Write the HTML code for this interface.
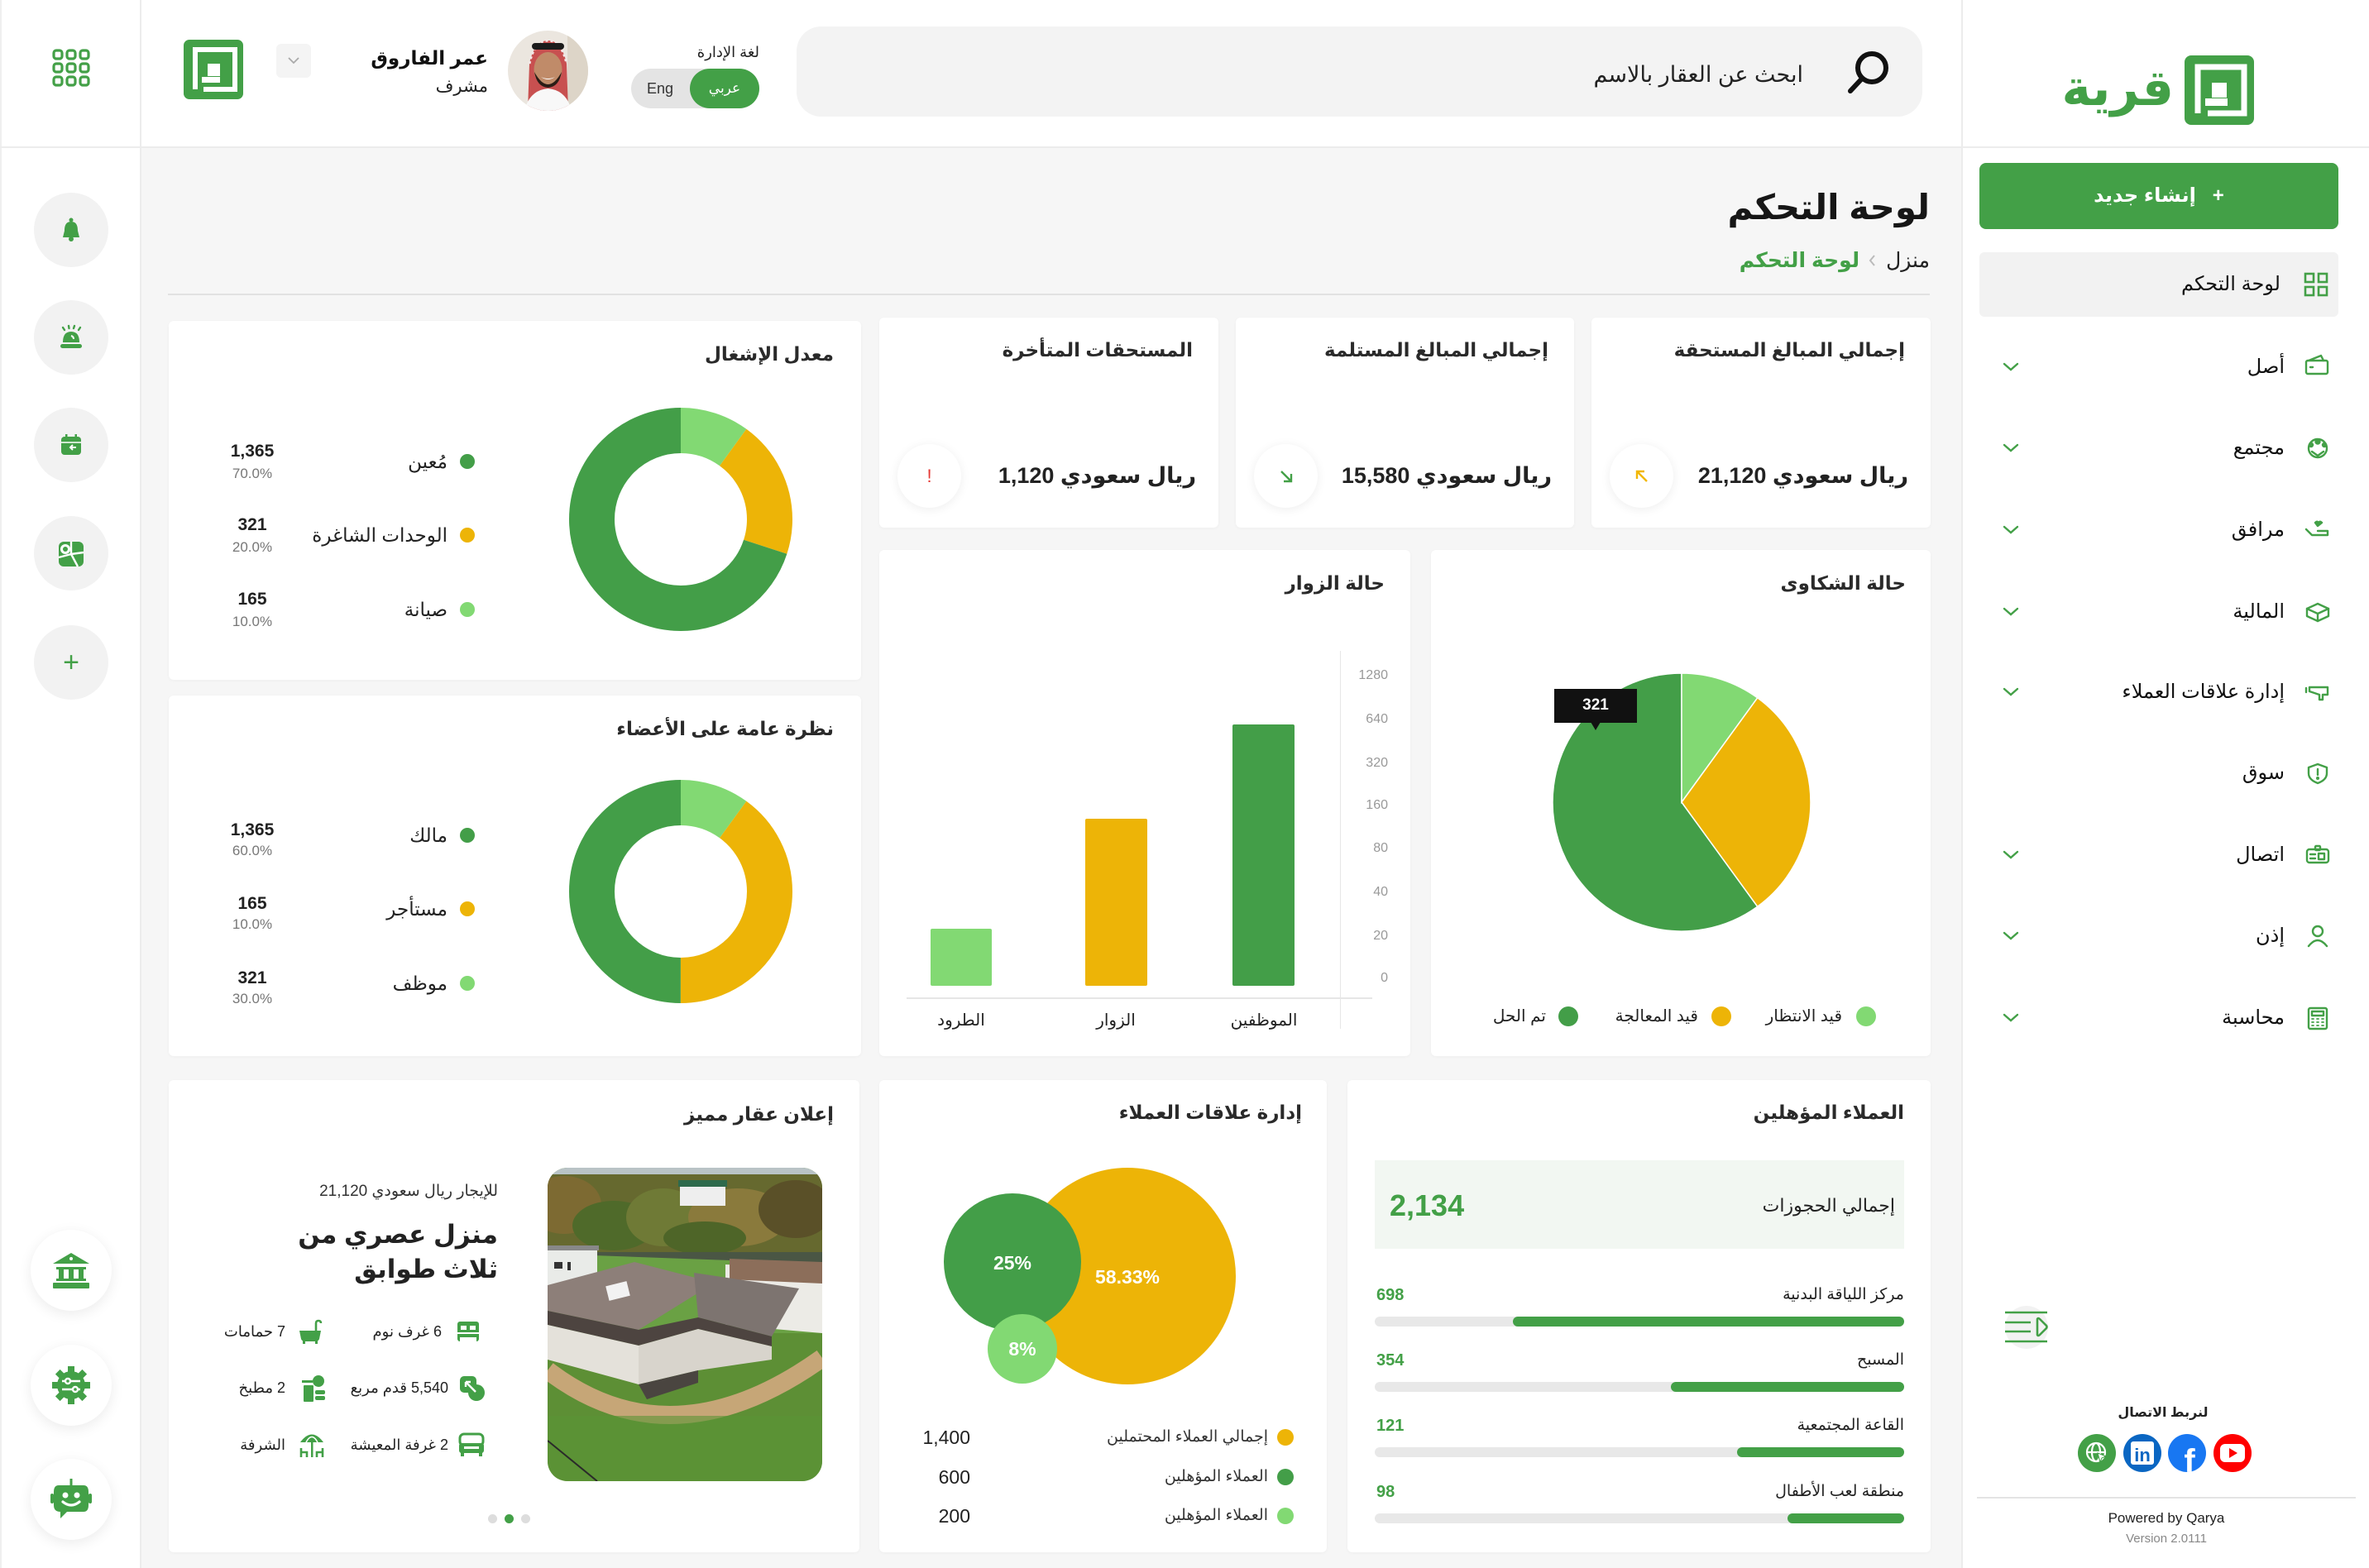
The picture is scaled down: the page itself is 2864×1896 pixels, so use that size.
<!DOCTYPE html>
<html lang="ar">
<head>
<meta charset="utf-8">
<style>
*{margin:0;padding:0;box-sizing:border-box}
html,body{width:2864px;height:1896px;overflow:hidden}
body{position:relative;background:#f6f6f6;font-family:"Liberation Sans","DejaVu Sans",sans-serif;color:#222}
.a{position:absolute}
.t{position:absolute;white-space:nowrap;direction:rtl;line-height:1}
.card{position:absolute;background:#fff;border-radius:6px;box-shadow:0 1px 4px rgba(0,0,0,0.035)}
.ttl{position:absolute;white-space:nowrap;direction:rtl;font-size:23px;font-weight:bold;line-height:34px;top:23px;color:#2a2a2a}
.circ{position:absolute;border-radius:50%}
.c{text-align:center;direction:ltr}
</style>
</head>
<body>

<!-- ===== frame ===== -->
<div class="a" style="left:0;top:0;width:171px;height:1896px;background:#fff;border-right:2px solid #ececec;border-left:2px solid #efefef"></div>
<div class="a" style="left:171px;top:0;width:2200px;height:178px;background:#fff"></div>
<div class="a" style="left:2371px;top:0;width:493px;height:1896px;background:#fff;border-left:2px solid #ececec"></div>
<div class="a" style="left:0;top:177px;width:2864px;height:2px;background:#ececec"></div>

<!-- ===== left sidebar ===== -->
<svg class="a" style="left:63px;top:59px" width="46" height="46" viewBox="0 0 46 46">
<g fill="none" stroke="#43a047" stroke-width="3.2">
<rect x="2" y="2" width="10" height="10" rx="3"/><rect x="18" y="2" width="10" height="10" rx="3"/><rect x="34" y="2" width="10" height="10" rx="3"/>
<rect x="2" y="18" width="10" height="10" rx="3"/><rect x="18" y="18" width="10" height="10" rx="3"/><rect x="34" y="18" width="10" height="10" rx="3"/>
<rect x="2" y="34" width="10" height="10" rx="3"/><rect x="18" y="34" width="10" height="10" rx="3"/><rect x="34" y="34" width="10" height="10" rx="3"/>
</g></svg>

<div class="circ" style="left:41px;top:233px;width:90px;height:90px;background:#f2f2f2"></div>
<svg class="a" style="left:72px;top:263px" width="28" height="30" viewBox="0 0 28 30"><circle cx="14" cy="3" r="2.5" fill="#43a047"/><path d="M14 5 C7 5 6 11 6 16 L4 24 L24 24 L22 16 C22 11 21 5 14 5Z" fill="#43a047"/><circle cx="14" cy="26" r="3" fill="#43a047"/></svg>

<div class="circ" style="left:41px;top:363px;width:90px;height:90px;background:#f2f2f2"></div>
<svg class="a" style="left:70px;top:392px" width="32" height="32" viewBox="0 0 32 32"><g stroke="#43a047" stroke-width="2.4" stroke-linecap="round"><line x1="6" y1="4" x2="8" y2="7"/><line x1="13" y1="2" x2="13.5" y2="5"/><line x1="20" y1="2" x2="19" y2="5"/><line x1="27" y1="4" x2="25" y2="7"/></g><path d="M6 22 Q6 9 16 9 Q26 9 26 22Z" fill="#43a047"/><path d="M16 14 Q19 15 19 18" stroke="#fff" stroke-width="2" fill="none"/><rect x="3" y="24" width="26" height="5" rx="2.5" fill="#43a047"/></svg>

<div class="circ" style="left:41px;top:493px;width:90px;height:90px;background:#f2f2f2"></div>
<svg class="a" style="left:73px;top:525px" width="26" height="26" viewBox="0 0 26 26"><rect x="1" y="3" width="24" height="22" rx="4" fill="#43a047"/><rect x="6" y="0" width="2.5" height="6" fill="#43a047"/><rect x="17.5" y="0" width="2.5" height="6" fill="#43a047"/><line x1="1" y1="10" x2="25" y2="10" stroke="#fff" stroke-width="1.6"/><path d="M19 16 L12 16 M15 13 L12 16 L15 19" stroke="#fff" stroke-width="2" fill="none"/></svg>

<div class="circ" style="left:41px;top:624px;width:90px;height:90px;background:#f2f2f2"></div>
<svg class="a" style="left:70px;top:654px" width="32" height="32" viewBox="0 0 32 32"><rect x="1" y="1" width="30" height="30" rx="6" fill="#43a047"/><circle cx="9" cy="10" r="6" fill="#fff"/><circle cx="9" cy="10" r="3" fill="#43a047"/><path d="M16 1 L16 16 L1 20 M16 16 L24 31 M16 16 L31 14" stroke="#fff" stroke-width="2.4" fill="none"/></svg>

<div class="circ" style="left:41px;top:756px;width:90px;height:90px;background:#f2f2f2"></div>
<div class="t c" style="left:41px;top:780px;width:90px;font-size:34px;line-height:42px;color:#43a047">+</div>

<div class="circ" style="left:37px;top:1487px;width:98px;height:98px;background:#fff;box-shadow:0 4px 16px rgba(0,0,0,0.08)"></div>
<svg class="a" style="left:63px;top:1513px" width="46" height="46" viewBox="0 0 46 46"><path d="M23 2 L45 15 L1 15Z" fill="#43a047"/><circle cx="23" cy="9" r="2" fill="#fff"/><rect x="5" y="19" width="36" height="3" fill="#43a047"/><rect x="8" y="22" width="6" height="12" fill="#43a047"/><rect x="20" y="22" width="6" height="12" fill="#43a047"/><rect x="32" y="22" width="6" height="12" fill="#43a047"/><rect x="5" y="33" width="36" height="3" fill="#43a047"/><rect x="1" y="38" width="44" height="7" rx="1" fill="#43a047"/></svg>

<div class="circ" style="left:37px;top:1626px;width:98px;height:98px;background:#fff;box-shadow:0 4px 16px rgba(0,0,0,0.08)"></div>
<svg class="a" style="left:62px;top:1651px" width="48" height="48" viewBox="0 0 48 48"><g fill="#43a047"><rect x="20" y="1" width="8" height="46"/><rect x="1" y="20" width="46" height="8"/><rect x="20" y="1" width="8" height="46" transform="rotate(45 24 24)"/><rect x="20" y="1" width="8" height="46" transform="rotate(-45 24 24)"/><circle cx="24" cy="24" r="17"/></g><g stroke="#fff" stroke-width="2.4" fill="#43a047"><line x1="13" y1="19" x2="35" y2="19"/><line x1="13" y1="29" x2="35" y2="29"/><circle cx="20" cy="19" r="3"/><circle cx="29" cy="29" r="3"/></g></svg>

<div class="circ" style="left:37px;top:1764px;width:98px;height:98px;background:#fff;box-shadow:0 4px 16px rgba(0,0,0,0.08)"></div>
<svg class="a" style="left:61px;top:1788px" width="50" height="50" viewBox="0 0 50 50"><rect x="23.5" y="0" width="3" height="8" fill="#43a047"/><path d="M10 8 L40 8 Q46 8 46 16 L46 32 Q46 40 40 40 L20 40 L12 48 L12 40 Q4 40 4 32 L4 16 Q4 8 10 8Z" fill="#43a047"/><rect x="0" y="18" width="4" height="12" rx="2" fill="#43a047"/><rect x="46" y="18" width="4" height="12" rx="2" fill="#43a047"/><circle cx="18" cy="20" r="3.5" fill="#fff"/><circle cx="32" cy="20" r="3.5" fill="#fff"/><path d="M15 28 Q25 36 35 28" stroke="#fff" stroke-width="3.2" fill="none" stroke-linecap="round"/></svg>

<!-- ===== header ===== -->
<svg class="a" style="left:222px;top:48px" width="72" height="72" viewBox="0 0 72 72"><rect width="72" height="72" rx="7" fill="#43a047"/><path d="M14 60 L14 12 L62 12 L62 60 L24 60" stroke="#fff" stroke-width="6" fill="none"/><rect x="23" y="22" width="30" height="30" fill="#43a047"/><rect x="29" y="29" width="15" height="15" fill="#fff"/><rect x="22" y="45" width="22" height="7" fill="#fff"/></svg>

<div class="a" style="left:334px;top:53px;width:42px;height:41px;background:#f4f4f4;border-radius:6px"></div>
<svg class="a" style="left:347px;top:67px" width="16" height="12" viewBox="0 0 16 12"><path d="M2 3 L8 9 L14 3" stroke="#aaa" stroke-width="1.8" fill="none"/></svg>

<div class="t" style="right:2274px;top:55px;font-size:23px;font-weight:bold;line-height:30px;color:#111">عمر الفاروق</div>
<div class="t" style="right:2274px;top:92px;font-size:21px;line-height:26px;color:#222">مشرف</div>

<svg class="a" style="left:614px;top:37px" width="97" height="97" viewBox="0 0 97 97"><defs><clipPath id="av"><circle cx="48.5" cy="48.5" r="48.5"/></clipPath></defs><g clip-path="url(#av)"><rect width="97" height="97" fill="#ebe6df"/><rect x="72" y="0" width="25" height="97" fill="#ddd5c8"/><path d="M24 97 L26 40 Q32 12 48.5 12 Q65 12 71 40 L73 97Z" fill="#c85050"/><path d="M26 40 Q32 12 48.5 12 Q65 12 71 40" stroke="#f3e8e8" stroke-width="3" fill="none" stroke-dasharray="3 3"/><rect x="29" y="15" width="39" height="8" rx="4" fill="#1b1b1b"/><ellipse cx="48.5" cy="47" rx="17" ry="21" fill="#c08b69"/><path d="M32 50 Q48.5 80 65 50 Q62 68 48.5 69 Q35 68 32 50Z" fill="#2b1d16"/><path d="M40 56 Q48.5 62 57 56 Q48.5 60 40 56Z" fill="#fff"/><path d="M20 97 Q26 72 48.5 70 Q71 72 77 97Z" fill="#f8f8f8"/></g></svg>

<div class="t" style="right:1946px;top:52px;font-size:18px;line-height:22px;color:#222">لغة الإدارة</div>
<div class="a" style="left:763px;top:83px;width:155px;height:48px;border-radius:24px;background:#e4e4e4"></div>
<div class="a" style="left:834px;top:83px;width:84px;height:48px;border-radius:24px;background:#43a047"></div>
<div class="t c" style="left:772px;top:96px;width:52px;font-size:18px;line-height:22px;color:#333">Eng</div>
<div class="t c" style="left:836px;top:96px;width:80px;font-size:17px;line-height:22px;color:#fff">عربي</div>

<div class="a" style="left:963px;top:32px;width:1361px;height:109px;border-radius:30px;background:#f3f3f3"></div>
<svg class="a" style="left:2232px;top:59px" width="54" height="56" viewBox="0 0 54 56"><circle cx="31" cy="23" r="17" stroke="#111" stroke-width="6" fill="none"/><line x1="19" y1="36" x2="5" y2="51" stroke="#111" stroke-width="6" stroke-linecap="round"/></svg>
<div class="t" style="right:684px;top:73px;font-size:27px;line-height:34px;color:#222">ابحث عن العقار بالاسم</div>

<!-- ===== right sidebar ===== -->
<svg class="a" style="left:2641px;top:67px" width="84" height="84" viewBox="0 0 84 84"><rect width="84" height="84" rx="8" fill="#43a047"/><path d="M16 70 L16 14 L72 14 L72 70 L28 70" stroke="#fff" stroke-width="7" fill="none"/><rect x="26" y="25" width="36" height="36" fill="#43a047"/><rect x="33" y="33" width="18" height="18" fill="#fff"/><rect x="25" y="52" width="27" height="9" fill="#fff"/></svg>
<div class="t" style="right:236px;top:70px;font-size:60px;font-weight:bold;line-height:74px;color:#43a047">قرية</div>

<div class="a" style="left:2393px;top:197px;width:434px;height:80px;border-radius:8px;background:#43a047"></div>
<div class="t c" style="left:2393px;top:221px;width:434px;font-size:24px;font-weight:bold;line-height:32px;color:#fff;direction:rtl">+&nbsp;&nbsp; إنشاء جديد</div>

<div class="a" style="left:2393px;top:305px;width:434px;height:78px;border-radius:6px;background:#f2f2f2"></div>
<svg class="a" style="left:2785px;top:329px" width="30" height="30" viewBox="0 0 30 30"><g fill="none" stroke="#43a047" stroke-width="2.6"><rect x="2" y="2" width="10" height="10"/><rect x="18" y="2" width="10" height="10"/><rect x="2" y="18" width="10" height="10"/><rect x="18" y="18" width="10" height="10"/></g></svg>
<div class="t" style="right:107px;top:328px;font-size:24px;line-height:32px;color:#111">لوحة التحكم</div>

<!-- menu items -->
<div class="t" style="right:102px;top:428px;font-size:24px;line-height:32px;color:#111">أصل</div>
<div class="t" style="right:102px;top:526px;font-size:24px;line-height:32px;color:#111">مجتمع</div>
<div class="t" style="right:102px;top:625px;font-size:24px;line-height:32px;color:#111">مرافق</div>
<div class="t" style="right:102px;top:724px;font-size:24px;line-height:32px;color:#111">المالية</div>
<div class="t" style="right:102px;top:821px;font-size:24px;line-height:32px;color:#111">إدارة علاقات العملاء</div>
<div class="t" style="right:102px;top:919px;font-size:24px;line-height:32px;color:#111">سوق</div>
<div class="t" style="right:102px;top:1018px;font-size:24px;line-height:32px;color:#111">اتصال</div>
<div class="t" style="right:102px;top:1116px;font-size:24px;line-height:32px;color:#111">إذن</div>
<div class="t" style="right:102px;top:1215px;font-size:24px;line-height:32px;color:#111">محاسبة</div>

<svg class="a" style="left:2420px;top:0" width="22" height="1300" viewBox="0 0 22 1300"><g stroke="#43a047" stroke-width="2.4" fill="none" stroke-linecap="round"><path d="M3 440 L11 447 L19 440"/><path d="M3 538 L11 545 L19 538"/><path d="M3 637 L11 644 L19 637"/><path d="M3 736 L11 743 L19 736"/><path d="M3 833 L11 840 L19 833"/><path d="M3 1030 L11 1037 L19 1030"/><path d="M3 1128 L11 1135 L19 1128"/><path d="M3 1227 L11 1234 L19 1227"/></g></svg>

<svg class="a" style="left:2786px;top:0" width="32" height="1260" viewBox="0 0 32 1260"><g stroke="#43a047" stroke-width="2.4" fill="none" stroke-linecap="round" stroke-linejoin="round">
<rect x="2" y="436" width="26" height="16" rx="2"/><path d="M5 436 L20 430 L23 436"/><line x1="7" y1="444" x2="10" y2="444"/>
<circle cx="16" cy="542" r="11"/><circle cx="16" cy="534" r="2.5" fill="#43a047"/><circle cx="8" cy="538" r="2" fill="#43a047"/><circle cx="24" cy="538" r="2" fill="#43a047"/><path d="M9 546 L16 551 L23 546"/>
<path d="M2 640 L9 647 L28 647 L28 642 L16 642"/><path d="M16 636 L13 632 Q16 629 17 633 Q18 629 21 632Z" fill="#43a047"/>
<path d="M3 736 L16 730 L29 736 L29 745 L16 751 L3 745Z"/><path d="M3 736 L16 742 L29 736 M16 742 L16 751"/>
<path d="M6 831 L28 831 L28 840 L22 840 L22 846 L18 846 L18 840 L6 836Z"/><line x1="2" y1="832" x2="2" y2="837"/>
<path d="M16 924 L27 928 L27 935 Q27 943 16 947 Q5 943 5 935 L5 928Z"/><line x1="16" y1="930" x2="16" y2="937"/><circle cx="16" cy="941" r="0.8" fill="#43a047"/>
<rect x="3" y="1027" width="26" height="16" rx="3"/><rect x="13" y="1023" width="6" height="5" rx="1"/><line x1="7" y1="1033" x2="13" y2="1033"/><line x1="7" y1="1038" x2="13" y2="1038"/><rect x="17" y="1032" width="7" height="7"/>
<circle cx="16" cy="1126" r="6"/><path d="M5 1144 Q16 1130 27 1144"/>
<rect x="5" y="1219" width="22" height="25" rx="2"/><rect x="9" y="1223" width="14" height="5"/><g stroke-width="1.8"><line x1="9" y1="1232" x2="11" y2="1232"/><line x1="15" y1="1232" x2="17" y2="1232"/><line x1="21" y1="1232" x2="23" y2="1232"/><line x1="9" y1="1236" x2="11" y2="1236"/><line x1="15" y1="1236" x2="17" y2="1236"/><line x1="21" y1="1236" x2="23" y2="1236"/><line x1="9" y1="1240" x2="11" y2="1240"/><line x1="15" y1="1240" x2="17" y2="1240"/><line x1="21" y1="1240" x2="23" y2="1240"/></g>
</g></svg>

<!-- collapse icon -->
<div class="circ" style="left:2424px;top:1579px;width:52px;height:52px;background:#f2f2f2"></div>
<svg class="a" style="left:2423px;top:1585px" width="54" height="40" viewBox="0 0 54 40"><g stroke="#43a047" stroke-width="2.6" fill="none"><line x1="1" y1="2" x2="52" y2="2"/><line x1="1" y1="14" x2="32" y2="14"/><line x1="1" y1="25" x2="32" y2="25"/><line x1="1" y1="37" x2="52" y2="37"/><path d="M40 10 L40 29 Q41 31 43 29 L51 21 Q52 19.5 51 18 L43 10 Q41 8 40 10Z"/></g></svg>

<div class="t c" style="left:2515px;top:1698px;width:200px;font-size:16px;font-weight:bold;line-height:22px;color:#222;direction:rtl">لنربط الاتصال</div>
<svg class="a" style="left:2510px;top:1732px" width="214" height="50" viewBox="0 0 214 50">
<circle cx="25" cy="25" r="23" fill="#43a047"/><g stroke="#fff" stroke-width="2.2" fill="none"><circle cx="24" cy="24" r="11"/><ellipse cx="24" cy="24" rx="5" ry="11"/><line x1="13" y1="24" x2="35" y2="24"/></g><path d="M26 25 L36 29 L31 31 L29 36Z" fill="#fff" stroke="#43a047" stroke-width="1"/>
<circle cx="80" cy="25" r="23" fill="#0a66c2"/><rect x="66" y="11" width="28" height="28" rx="3" fill="#fff"/><text x="80" y="35" font-family="Liberation Sans" font-weight="bold" font-size="22" fill="#0a66c2" text-anchor="middle">in</text>
<circle cx="134" cy="25" r="23" fill="#1877f2"/><text x="137" y="48" font-family="Liberation Sans" font-weight="bold" font-size="40" fill="#fff" text-anchor="middle">f</text>
<circle cx="189" cy="25" r="23" fill="#ff0000"/><rect x="174" y="14" width="30" height="22" rx="6" fill="#fff"/><path d="M185 19 L195 25 L185 31Z" fill="#ff0000"/>
</svg>
<div class="a" style="left:2390px;top:1810px;width:458px;height:2px;background:#e4e4e4"></div>
<div class="t c" style="left:2519px;top:1826px;width:200px;font-size:17px;line-height:20px;color:#222">Powered by Qarya</div>
<div class="t c" style="left:2519px;top:1852px;width:200px;font-size:15px;line-height:18px;color:#888">Version 2.0111</div>

<!-- ===== page title ===== -->
<div class="t" style="right:531px;top:219px;font-size:42px;font-weight:bold;line-height:64px;color:#161616">لوحة التحكم</div>
<div class="t" style="right:531px;top:299px;font-size:25px;line-height:32px;color:#222">منزل <svg width="18" height="22" viewBox="0 0 18 22" style="vertical-align:-3px"><path d="M11 5 L6 11 L11 17" stroke="#bbb" stroke-width="2" fill="none"/></svg> <span style="color:#43a047;font-weight:bold">لوحة التحكم</span></div>
<div class="a" style="left:203px;top:355px;width:2130px;height:2px;background:#e2e2e2"></div>

<!-- ===== C1 occupancy ===== -->
<div class="card" style="left:204px;top:388px;width:837px;height:434px">
  <div class="ttl" style="right:33px">معدل الإشغال</div>
  <svg class="a" style="left:484px;top:105px" width="270" height="270" viewBox="0 0 270 270"><g transform="rotate(-90 135 135)" fill="none" stroke-width="55">
    <circle cx="135" cy="135" r="107.5" stroke="#82d973" stroke-dasharray="67.54 607.9"/>
    <circle cx="135" cy="135" r="107.5" stroke="#edb407" stroke-dasharray="135.09 540.35" stroke-dashoffset="-67.54"/>
    <circle cx="135" cy="135" r="107.5" stroke="#439e48" stroke-dasharray="472.81 202.63" stroke-dashoffset="-202.63"/>
  </g></svg>
  <div class="circ" style="left:352px;top:161px;width:18px;height:18px;background:#439e48"></div>
  <div class="circ" style="left:352px;top:250px;width:18px;height:18px;background:#edb407"></div>
  <div class="circ" style="left:352px;top:340px;width:18px;height:18px;background:#82d973"></div>
  <div class="t" style="right:500px;top:154px;font-size:23px;line-height:32px">مُعين</div>
  <div class="t" style="right:500px;top:243px;font-size:23px;line-height:32px">الوحدات الشاغرة</div>
  <div class="t" style="right:500px;top:333px;font-size:23px;line-height:32px">صيانة</div>
  <div class="t c" style="left:41px;top:146px;width:120px;font-size:21px;font-weight:bold;line-height:24px">1,365</div>
  <div class="t c" style="left:41px;top:175px;width:120px;font-size:17px;line-height:20px;color:#777">70.0%</div>
  <div class="t c" style="left:41px;top:235px;width:120px;font-size:21px;font-weight:bold;line-height:24px">321</div>
  <div class="t c" style="left:41px;top:264px;width:120px;font-size:17px;line-height:20px;color:#777">20.0%</div>
  <div class="t c" style="left:41px;top:325px;width:120px;font-size:21px;font-weight:bold;line-height:24px">165</div>
  <div class="t c" style="left:41px;top:354px;width:120px;font-size:17px;line-height:20px;color:#777">10.0%</div>
</div>

<!-- ===== C5 members ===== -->
<div class="card" style="left:204px;top:841px;width:837px;height:436px">
  <div class="ttl" style="right:33px">نظرة عامة على الأعضاء</div>
  <svg class="a" style="left:484px;top:102px" width="270" height="270" viewBox="0 0 270 270"><g transform="rotate(-90 135 135)" fill="none" stroke-width="55">
    <circle cx="135" cy="135" r="107.5" stroke="#82d973" stroke-dasharray="67.54 607.9"/>
    <circle cx="135" cy="135" r="107.5" stroke="#edb407" stroke-dasharray="270.18 405.26" stroke-dashoffset="-67.54"/>
    <circle cx="135" cy="135" r="107.5" stroke="#439e48" stroke-dasharray="337.72 337.72" stroke-dashoffset="-337.72"/>
  </g></svg>
  <div class="circ" style="left:352px;top:160px;width:18px;height:18px;background:#439e48"></div>
  <div class="circ" style="left:352px;top:249px;width:18px;height:18px;background:#edb407"></div>
  <div class="circ" style="left:352px;top:339px;width:18px;height:18px;background:#82d973"></div>
  <div class="t" style="right:500px;top:153px;font-size:23px;line-height:32px">مالك</div>
  <div class="t" style="right:500px;top:242px;font-size:23px;line-height:32px">مستأجر</div>
  <div class="t" style="right:500px;top:332px;font-size:23px;line-height:32px">موظف</div>
  <div class="t c" style="left:41px;top:151px;width:120px;font-size:21px;font-weight:bold;line-height:24px">1,365</div>
  <div class="t c" style="left:41px;top:178px;width:120px;font-size:17px;line-height:20px;color:#777">60.0%</div>
  <div class="t c" style="left:41px;top:240px;width:120px;font-size:21px;font-weight:bold;line-height:24px">165</div>
  <div class="t c" style="left:41px;top:267px;width:120px;font-size:17px;line-height:20px;color:#777">10.0%</div>
  <div class="t c" style="left:41px;top:330px;width:120px;font-size:21px;font-weight:bold;line-height:24px">321</div>
  <div class="t c" style="left:41px;top:357px;width:120px;font-size:17px;line-height:20px;color:#777">30.0%</div>
</div>

<!-- ===== C2-C4 stat cards ===== -->
<div class="card" style="left:1063px;top:384px;width:410px;height:254px">
  <div class="ttl" style="right:31px;top:22px">المستحقات المتأخرة</div>
  <div class="t" style="right:27px;top:171px;font-size:27px;font-weight:bold;line-height:40px">ريال سعودي 1,120</div>
  <div class="circ" style="left:22px;top:153px;width:77px;height:77px;background:#fff;box-shadow:0 2px 12px rgba(0,0,0,0.07)"></div>
  <div class="t c" style="left:22px;top:179px;width:77px;font-size:22px;line-height:26px;color:#e53935">!</div>
</div>
<div class="card" style="left:1494px;top:384px;width:409px;height:254px">
  <div class="ttl" style="right:31px;top:22px">إجمالي المبالغ المستلمة</div>
  <div class="t" style="right:27px;top:171px;font-size:27px;font-weight:bold;line-height:40px">ريال سعودي 15,580</div>
  <div class="circ" style="left:22px;top:153px;width:77px;height:77px;background:#fff;box-shadow:0 2px 12px rgba(0,0,0,0.07)"></div>
  <svg class="a" style="left:52px;top:183px" width="18" height="18" viewBox="0 0 18 18"><path d="M3 3 L15 15 M15 6 L15 15 L6 15" stroke="#43a047" stroke-width="2.4" fill="none"/></svg>
</div>
<div class="card" style="left:1924px;top:384px;width:410px;height:254px">
  <div class="ttl" style="right:31px;top:22px">إجمالي المبالغ المستحقة</div>
  <div class="t" style="right:27px;top:171px;font-size:27px;font-weight:bold;line-height:40px">ريال سعودي 21,120</div>
  <div class="circ" style="left:22px;top:153px;width:77px;height:77px;background:#fff;box-shadow:0 2px 12px rgba(0,0,0,0.07)"></div>
  <svg class="a" style="left:52px;top:183px" width="18" height="18" viewBox="0 0 18 18"><path d="M15 15 L3 3 M3 12 L3 3 L12 3" stroke="#f2b705" stroke-width="2.4" fill="none"/></svg>
</div>

<!-- ===== C6 visitors ===== -->
<div class="card" style="left:1063px;top:665px;width:642px;height:612px">
  <div class="ttl" style="right:31px">حالة الزوار</div>
  <div class="a" style="left:557px;top:122px;width:1px;height:457px;background:#e6e6e6"></div>
  <div class="t" style="right:27px;top:142px;font-size:16px;line-height:20px;color:#999;direction:ltr">1280</div>
  <div class="t" style="right:27px;top:195px;font-size:16px;line-height:20px;color:#999;direction:ltr">640</div>
  <div class="t" style="right:27px;top:248px;font-size:16px;line-height:20px;color:#999;direction:ltr">320</div>
  <div class="t" style="right:27px;top:299px;font-size:16px;line-height:20px;color:#999;direction:ltr">160</div>
  <div class="t" style="right:27px;top:351px;font-size:16px;line-height:20px;color:#999;direction:ltr">80</div>
  <div class="t" style="right:27px;top:404px;font-size:16px;line-height:20px;color:#999;direction:ltr">40</div>
  <div class="t" style="right:27px;top:457px;font-size:16px;line-height:20px;color:#999;direction:ltr">20</div>
  <div class="t" style="right:27px;top:508px;font-size:16px;line-height:20px;color:#999;direction:ltr">0</div>
  <div class="a" style="left:33px;top:541px;width:563px;height:2px;background:#e6e6e6"></div>
  <div class="a" style="left:62px;top:458px;width:74px;height:69px;background:#82d973;border-radius:2px"></div>
  <div class="a" style="left:249px;top:325px;width:75px;height:202px;background:#edb407;border-radius:2px"></div>
  <div class="a" style="left:427px;top:211px;width:75px;height:316px;background:#439e48;border-radius:2px"></div>
  <div class="t c" style="left:39px;top:555px;width:120px;font-size:20px;line-height:28px;direction:rtl">الطرود</div>
  <div class="t c" style="left:226px;top:555px;width:120px;font-size:20px;line-height:28px;direction:rtl">الزوار</div>
  <div class="t c" style="left:405px;top:555px;width:120px;font-size:20px;line-height:28px;direction:rtl">الموظفين</div>
</div>

<!-- ===== C7 complaints ===== -->
<div class="card" style="left:1730px;top:665px;width:604px;height:612px">
  <div class="ttl" style="right:30px">حالة الشكاوى</div>
  <svg class="a" style="left:0;top:0" width="604" height="612" viewBox="0 0 604 612">
    <g stroke="#fff" stroke-width="1.5">
    <path d="M303 305 L394.7 431.2 A156 156 0 1 1 303 149 Z" fill="#439e48"/>
    <path d="M303 305 L303 149 A156 156 0 0 1 394.7 178.8 Z" fill="#82d973"/>
    <path d="M303 305 L394.7 178.8 A156 156 0 0 1 394.7 431.2 Z" fill="#edb407"/>
    </g>
    <rect x="149" y="168" width="100" height="41" fill="#111"/>
    <path d="M193 208 L199 218 L205 208Z" fill="#111"/>
    <circle cx="526" cy="564" r="12" fill="#82d973"/>
    <circle cx="351" cy="564" r="12" fill="#edb407"/>
    <circle cx="166" cy="564" r="12" fill="#439e48"/>
  </svg>
  <div class="t c" style="left:149px;top:177px;width:100px;font-size:19px;font-weight:bold;line-height:22px;color:#fff">321</div>
  <div class="t" style="right:107px;top:550px;font-size:20px;line-height:28px">قيد الانتظار</div>
  <div class="t" style="right:281px;top:550px;font-size:20px;line-height:28px">قيد المعالجة</div>
  <div class="t" style="right:465px;top:550px;font-size:20px;line-height:28px">تم الحل</div>
</div>

<!-- ===== C8 featured ===== -->
<div class="card" style="left:204px;top:1306px;width:835px;height:571px">
  <div class="ttl" style="right:31px;top:24px">إعلان عقار مميز</div>
  <svg class="a" style="left:458px;top:106px" width="332" height="379" viewBox="0 0 332 379">
    <defs><clipPath id="img"><rect width="332" height="379" rx="24"/></clipPath></defs>
    <g clip-path="url(#img)">
      <rect width="332" height="379" fill="#5d8f35"/>
      <rect width="332" height="14" fill="#b9c3c6"/>
      <rect y="8" width="332" height="100" fill="#66692f"/>
      <ellipse cx="20" cy="45" rx="45" ry="35" fill="#7d6a32"/>
      <ellipse cx="80" cy="70" rx="50" ry="30" fill="#4f6a2a"/>
      <ellipse cx="140" cy="60" rx="45" ry="35" fill="#6f7a36"/>
      <ellipse cx="230" cy="60" rx="60" ry="35" fill="#8a7a3c"/>
      <ellipse cx="300" cy="50" rx="45" ry="35" fill="#5a5028"/>
      <ellipse cx="190" cy="85" rx="50" ry="20" fill="#4e6528"/>
      <rect x="160" y="22" width="55" height="24" fill="#eee"/>
      <rect x="158" y="15" width="59" height="8" fill="#2e6a4c"/>
      <path d="M40 102 L332 102 L332 120 L60 114Z" fill="#4a5644"/>
      <path d="M0 104 L332 116 L332 200 L0 200Z" fill="#6aa144"/>
      <rect x="0" y="97" width="60" height="73" fill="#e9ebe8"/>
      <rect x="0" y="94" width="62" height="6" fill="#888"/>
      <rect x="8" y="114" width="10" height="8" fill="#333"/><rect x="24" y="114" width="4" height="10" fill="#333"/>
      <path d="M215 117 L332 122 L332 200 L215 190Z" fill="#ecebe6"/>
      <path d="M220 110 L332 114 L332 140 L220 135Z" fill="#8c6e5a"/>
      <path d="M0 142 L105 114 L202 139 L110 196 L0 173Z" fill="#8d7f79"/>
      <path d="M177 127 L304 146 L271 204 L182 181Z" fill="#7d7470"/>
      <rect x="72" y="140" width="26" height="18" fill="#f2f2f2" transform="rotate(-14 85 149)"/>
      <path d="M0 173 L110 196 L110 215 L0 190Z" fill="#4d4440"/>
      <path d="M110 196 L182 181 L271 204 L271 216 L182 195 L110 215Z" fill="#4d4440"/>
      <path d="M0 190 L110 215 L110 262 L0 232Z" fill="#e4e1da"/>
      <path d="M110 215 L182 195 L271 216 L271 232 L182 245 L110 262Z" fill="#d8d4cc"/>
      <path d="M110 262 L182 245 L182 260 L120 280Z" fill="#4a4540"/>
      <path d="M0 245 Q150 360 332 230" stroke="#c6a677" stroke-width="22" fill="none"/>
      <path d="M0 300 L332 300 L332 379 L0 379Z" fill="#5a9436" opacity="0.6"/>
      <path d="M0 330 L60 379" stroke="#2a2a2a" stroke-width="2"/>
    </g>
  </svg>
  <div class="t" style="right:437px;top:122px;font-size:19px;line-height:26px;color:#333">للإيجار ريال سعودي 21,120</div>
  <div class="t" style="right:437px;top:166px;font-size:31px;font-weight:bold;line-height:42px;text-align:right;color:#222">منزل عصري من<br>ثلاث طوابق</div>

  <!-- features -->
  <svg class="a" style="left:347px;top:289px" width="30" height="30" viewBox="0 0 30 30"><rect x="2" y="3" width="26" height="24" rx="3" fill="#43a047"/><rect x="6" y="8" width="7" height="5" fill="#fff"/><rect x="17" y="8" width="7" height="5" fill="#fff"/><rect x="2" y="16" width="26" height="2" fill="#fff"/><rect x="5" y="22" width="20" height="6" fill="#fff"/></svg>
  <div class="t" style="right:505px;top:291px;font-size:18px;line-height:26px">6 غرف نوم</div>
  <svg class="a" style="left:156px;top:289px" width="30" height="30" viewBox="0 0 30 30"><path d="M2 14 L28 14 L26 24 Q25 27 21 27 L9 27 Q5 27 4 24Z" fill="#43a047"/><path d="M22 14 L22 5 Q22 2 25 2 Q28 2 28 5" stroke="#43a047" stroke-width="2.6" fill="none"/><rect x="6" y="26" width="3" height="4" fill="#43a047"/><rect x="21" y="26" width="3" height="4" fill="#43a047"/></svg>
  <div class="t" style="right:694px;top:291px;font-size:18px;line-height:26px">7 حمامات</div>

  <svg class="a" style="left:351px;top:357px" width="32" height="32" viewBox="0 0 32 32"><rect x="1" y="1" width="20" height="20" rx="5" fill="#43a047"/><circle cx="21" cy="21" r="10" fill="#43a047"/><path d="M8 8 L20 20 M8 8 L8 14 M8 8 L14 8" stroke="#fff" stroke-width="2.4" fill="none"/></svg>
  <div class="t" style="right:497px;top:359px;font-size:18px;line-height:26px">5,540 قدم مربع</div>
  <svg class="a" style="left:160px;top:356px" width="30" height="34" viewBox="0 0 30 34"><circle cx="21" cy="8" r="7" fill="#43a047"/><rect x="1" y="7" width="13" height="3" fill="#43a047"/><rect x="3" y="13" width="12" height="20" rx="1" fill="#43a047"/><rect x="17" y="19" width="12" height="5" rx="2" fill="#43a047"/><rect x="17" y="26" width="12" height="5" rx="2" fill="#43a047"/></svg>
  <div class="t" style="right:694px;top:359px;font-size:18px;line-height:26px">2 مطبخ</div>

  <svg class="a" style="left:350px;top:426px" width="32" height="30" viewBox="0 0 32 30"><rect x="2" y="2" width="28" height="14" rx="5" fill="none" stroke="#43a047" stroke-width="3"/><rect x="1" y="13" width="30" height="12" rx="3" fill="#43a047"/><rect x="7" y="17" width="18" height="3" fill="#fff"/><rect x="3" y="24" width="4" height="5" fill="#43a047"/><rect x="25" y="24" width="4" height="5" fill="#43a047"/></svg>
  <div class="t" style="right:497px;top:428px;font-size:18px;line-height:26px">2 غرفة المعيشة</div>
  <svg class="a" style="left:158px;top:425px" width="30" height="32" viewBox="0 0 30 32"><path d="M1 13 Q15 -6 29 13Z" fill="#43a047"/><path d="M8 13 Q15 0 22 13" stroke="#fff" stroke-width="1.6" fill="none"/><rect x="14" y="12" width="2.5" height="19" fill="#43a047"/><path d="M2 20 L2 31 M2 25 L9 25 L9 31 M28 20 L28 31 M28 25 L21 25 L21 31" stroke="#43a047" stroke-width="2.6" fill="none"/></svg>
  <div class="t" style="right:694px;top:428px;font-size:18px;line-height:26px">الشرفة</div>

  <div class="circ" style="left:386px;top:525px;width:11px;height:11px;background:#ddd"></div>
  <div class="circ" style="left:406px;top:525px;width:11px;height:11px;background:#43a047"></div>
  <div class="circ" style="left:426px;top:525px;width:11px;height:11px;background:#ddd"></div>
</div>

<!-- ===== C9 CRM ===== -->
<div class="card" style="left:1063px;top:1306px;width:541px;height:571px">
  <div class="ttl" style="right:30px;top:22px">إدارة علاقات العملاء</div>
  <svg class="a" style="left:0;top:0" width="541" height="571" viewBox="0 0 541 571">
    <circle cx="300" cy="237" r="131" fill="#edb407"/>
    <circle cx="161" cy="220" r="83" fill="#439e48"/>
    <circle cx="173" cy="325" r="42" fill="#82d973"/>
    <circle cx="491" cy="432" r="10" fill="#edb407"/>
    <circle cx="491" cy="480" r="10" fill="#439e48"/>
    <circle cx="491" cy="527" r="10" fill="#82d973"/>
  </svg>
  <div class="t c" style="left:111px;top:208px;width:100px;font-size:23px;font-weight:bold;line-height:26px;color:#fff">25%</div>
  <div class="t c" style="left:240px;top:225px;width:120px;font-size:23px;font-weight:bold;line-height:26px;color:#fff">58.33%</div>
  <div class="t c" style="left:131px;top:312px;width:84px;font-size:23px;font-weight:bold;line-height:26px;color:#fff">8%</div>
  <div class="t" style="right:71px;top:418px;font-size:19px;line-height:28px;color:#333">إجمالي العملاء المحتملين</div>
  <div class="t" style="right:71px;top:466px;font-size:19px;line-height:28px;color:#333">العملاء المؤهلين</div>
  <div class="t" style="right:71px;top:513px;font-size:19px;line-height:28px;color:#333">العملاء المؤهلين</div>
  <div class="t" style="right:431px;top:418px;font-size:23px;line-height:28px;direction:ltr">1,400</div>
  <div class="t" style="right:431px;top:466px;font-size:23px;line-height:28px;direction:ltr">600</div>
  <div class="t" style="right:431px;top:513px;font-size:23px;line-height:28px;direction:ltr">200</div>
</div>

<!-- ===== C10 qualified ===== -->
<div class="card" style="left:1629px;top:1306px;width:705px;height:571px">
  <div class="ttl" style="right:32px;top:22px">العملاء المؤهلين</div>
  <div class="a" style="left:33px;top:97px;width:640px;height:107px;background:#f2f7f2"></div>
  <div class="t" style="left:51px;top:130px;font-size:36px;font-weight:bold;line-height:44px;color:#43a047;direction:ltr">2,134</div>
  <div class="t" style="right:43px;top:137px;font-size:22px;line-height:30px;color:#222">إجمالي الحجوزات</div>

  <div class="t" style="right:32px;top:246px;font-size:19px;line-height:28px">مركز اللياقة البدنية</div>
  <div class="t" style="left:35px;top:247px;font-size:20px;font-weight:bold;line-height:26px;color:#43a047;direction:ltr">698</div>
  <div class="a" style="left:33px;top:286px;width:640px;height:12px;border-radius:6px;background:#e8e8e8"></div>
  <div class="a" style="left:200px;top:286px;width:473px;height:12px;border-radius:6px;background:#43a047"></div>

  <div class="t" style="right:32px;top:325px;font-size:19px;line-height:28px">المسبح</div>
  <div class="t" style="left:35px;top:326px;font-size:20px;font-weight:bold;line-height:26px;color:#43a047;direction:ltr">354</div>
  <div class="a" style="left:33px;top:365px;width:640px;height:12px;border-radius:6px;background:#e8e8e8"></div>
  <div class="a" style="left:391px;top:365px;width:282px;height:12px;border-radius:6px;background:#43a047"></div>

  <div class="t" style="right:32px;top:404px;font-size:19px;line-height:28px">القاعة المجتمعية</div>
  <div class="t" style="left:35px;top:405px;font-size:20px;font-weight:bold;line-height:26px;color:#43a047;direction:ltr">121</div>
  <div class="a" style="left:33px;top:444px;width:640px;height:12px;border-radius:6px;background:#e8e8e8"></div>
  <div class="a" style="left:471px;top:444px;width:202px;height:12px;border-radius:6px;background:#43a047"></div>

  <div class="t" style="right:32px;top:484px;font-size:19px;line-height:28px">منطقة لعب الأطفال</div>
  <div class="t" style="left:35px;top:485px;font-size:20px;font-weight:bold;line-height:26px;color:#43a047;direction:ltr">98</div>
  <div class="a" style="left:33px;top:524px;width:640px;height:12px;border-radius:6px;background:#e8e8e8"></div>
  <div class="a" style="left:532px;top:524px;width:141px;height:12px;border-radius:6px;background:#43a047"></div>
</div>

</body>
</html>
